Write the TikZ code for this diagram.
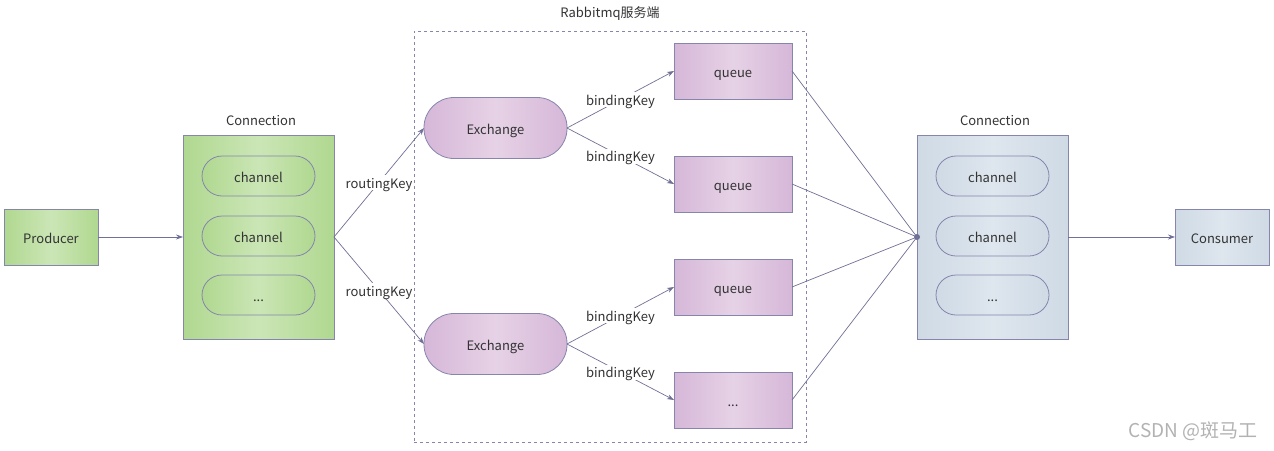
\documentclass[tikz,border=0pt]{standalone}
\usepackage{fontspec}
\setmainfont{Noto Sans CJK SC}
\usetikzlibrary{arrows.meta}
\definecolor{edge}{HTML}{8585AD}
\definecolor{ln}{HTML}{707096}
\definecolor{txt}{HTML}{333333}
\definecolor{gA}{HTML}{B0D890}
\definecolor{gB}{HTML}{CBE6B6}
\definecolor{pA}{HTML}{D6B7D8}
\definecolor{pB}{HTML}{E6D2E6}
\definecolor{bA}{HTML}{CFDAE5}
\definecolor{bB}{HTML}{DEE6EE}
\tikzset{
  base/.style={draw=edge, line width=0.8pt, inner sep=0pt, outer sep=0pt, text=txt, font=\fontsize{13}{15}\selectfont, text height=12pt, text depth=0pt},
  green/.style={base, left color=gA, right color=gA, middle color=gB},
  purple/.style={base, left color=pA, right color=pA, middle color=pB},
  blue/.style={base, left color=bA, right color=bA, middle color=bB},
  conn/.style={minimum width=151pt, minimum height=204pt},
  endbox/.style={minimum width=94pt, minimum height=56pt},
  chan/.style={minimum width=113pt, minimum height=40pt, rounded corners=20pt},
  exch/.style={purple, minimum width=143pt, minimum height=61pt, rounded corners=30pt},
  queuebox/.style={purple, minimum width=118pt, minimum height=56pt},
  lbl/.style={text=txt, font=\fontsize{13}{15}\selectfont, inner sep=1pt},
  elbl/.style={lbl, fill=white, text height=11pt, text depth=0pt, inner ysep=2pt},
  wire/.style={draw=ln, line width=0.7pt},
  arr/.style={wire, -{Stealth[length=7pt,width=5pt]}},
}
\begin{document}
\begin{tikzpicture}[x=1pt,y=-1pt]
\useasboundingbox (0,0) rectangle (1274,450);
% server box
\node[draw=edge, dashed, line width=0.7pt, minimum width=392pt, minimum height=411pt, inner sep=0pt] (server) at (610,236.5) {};
\node[lbl] (serverlbl) at (610,14) {Rabbitmq服务端};
% producer side
\node[green, endbox] (prod) at (51,237) {Producer};
\node[green, conn] (c1) at (258.5,237) {};
\node[lbl] (c1lbl) at (261,121) {Connection};
\node[green, chan] (c1a) at (258.5,176) {channel};
\node[green, chan] (c1b) at (258.5,236) {channel};
\node[green, chan] (c1c) at (258.5,295) {...};
% exchanges
\node[exch] (ex1) at (495.5,128) {Exchange};
\node[exch] (ex2) at (495.5,344) {Exchange};
% queues
\node[queuebox] (q1) at (733,71) {queue};
\node[queuebox] (q2) at (733,184) {queue};
\node[queuebox] (q3) at (733,287) {queue};
\node[queuebox] (q4) at (733,400) {...};
% consumer side
\node[blue, conn] (c2) at (992.5,237) {};
\node[lbl] (c2lbl) at (995,121) {Connection};
\node[blue, chan] (c2a) at (992.5,176) {channel};
\node[blue, chan] (c2b) at (992.5,236) {channel};
\node[blue, chan] (c2c) at (992.5,295) {...};
\node[blue, endbox] (cons) at (1222,237) {Consumer};
% connectors
\draw[arr] (prod.east) -- (c1.west);
\draw[arr] (c1.east) -- node[elbl] {routingKey} (ex1.west);
\draw[arr] (c1.east) -- node[elbl] {routingKey} (ex2.west);
\draw[arr] (ex1.east) -- node[elbl] {bindingKey} (q1.west);
\draw[arr] (ex1.east) -- node[elbl] {bindingKey} (q2.west);
\draw[arr] (ex2.east) -- node[elbl] {bindingKey} (q3.west);
\draw[arr] (ex2.east) -- node[elbl] {bindingKey} (q4.west);
\draw[wire] (q1.east) -- (c2.west);
\draw[wire] (q2.east) -- (c2.west);
\draw[wire] (q3.east) -- (c2.west);
\draw[wire] (q4.east) -- (c2.west);
\fill[ln] (c2.west) circle (3pt);
\draw[arr] (c2.east) -- (cons.west);
% watermark
\node[text=black!30, font=\fontsize{19}{21}\selectfont, inner sep=0pt] (wm) at (1193,431) {CSDN @斑马工};
\end{tikzpicture}
\end{document}
